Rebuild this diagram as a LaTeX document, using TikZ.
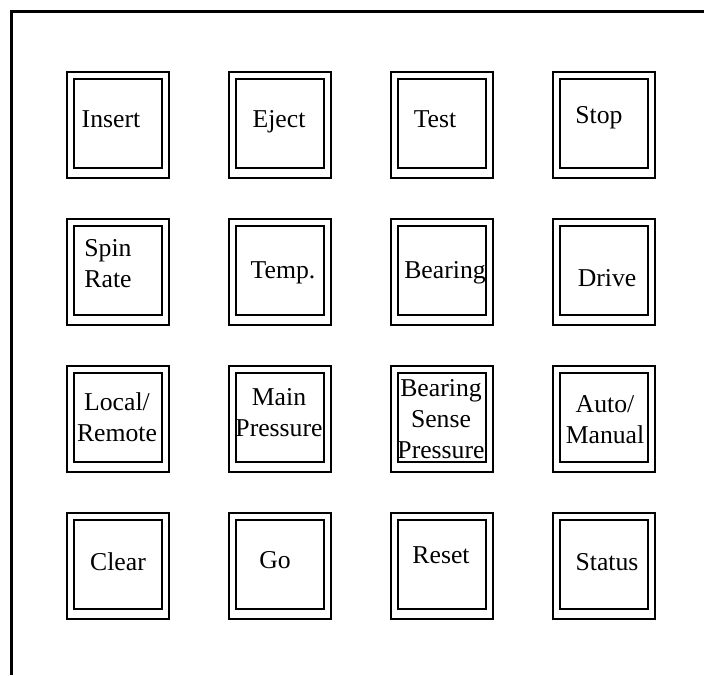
\documentclass[tikz,border=0pt]{standalone}
\usepackage{fontspec}
\setmainfont{Liberation Serif}
\usepackage{tikz}
\usetikzlibrary{positioning}

\begin{document}
\begin{tikzpicture}[x=0.5pt, y=-0.5pt,
  btnframe/.style={draw=black, line width=0.9pt},
  btnlabel/.style={font=\fontsize{12.85pt}{15.5pt}\selectfont, align=center, anchor=base, inner sep=0pt}]

\useasboundingbox (0,0) rectangle (704,675);

% panel edge
\draw[line width=1.5pt] (11,675) -- (11,11) -- (704,11);

% 4 x 4 keys, each one a double frame
\foreach \c in {0,1,2,3} {
  \foreach \r in {0,1,2,3} {
    \draw[btnframe] (67+162*\c, 72+147*\r) rectangle ++(102,106);
    \draw[btnframe] (74+162*\c, 79+147*\r) rectangle ++(88,89);
  }
}

\node[btnlabel] (insert) at (111,127) {Insert};
\node[btnlabel] (eject) at (279,127) {Eject};
\node[btnlabel] (test) at (435,127) {Test};
\node[btnlabel] (stop) at (599,123) {Stop};

\node[btnlabel] (spinrate) at (108,287) {Spin\\Rate};
\node[btnlabel] (temp) at (283,278) {Temp.};
\node[btnlabel] (bearing) at (445,278) {Bearing};
\node[btnlabel] (drive) at (607,286) {Drive};

\node[btnlabel] (localremote) at (117,441) {Local/\\Remote};
\node[btnlabel] (mainpress) at (279,436) {Main\\Pressure};
\node[btnlabel] (sensepress) at (441,458) {Bearing\\Sense\\Pressure};
\node[btnlabel] (automanual) at (605,443) {Auto/\\Manual};

\node[btnlabel] (clear) at (118,570) {Clear};
\node[btnlabel] (go) at (275,568) {Go};
\node[btnlabel] (reset) at (441,563) {Reset};
\node[btnlabel] (status) at (607,570) {Status};

\end{tikzpicture}
\end{document}
